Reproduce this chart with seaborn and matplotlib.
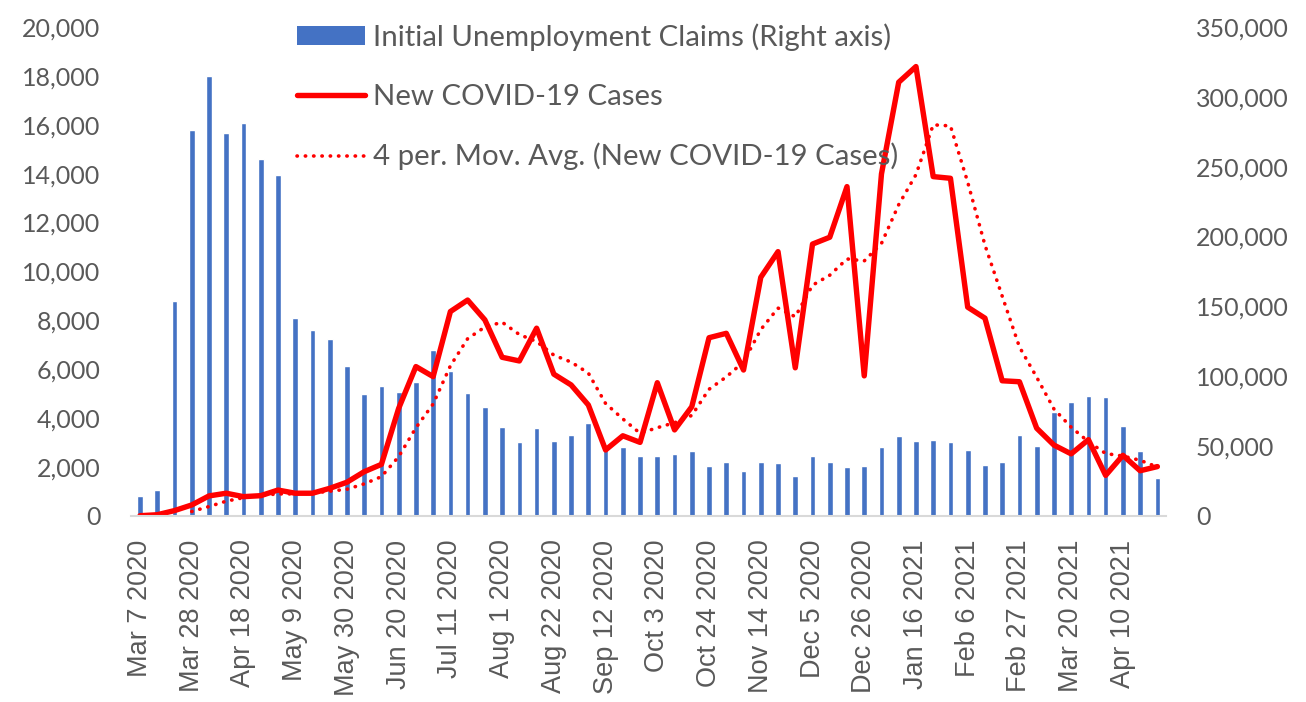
import numpy as np
import pandas as pd
import matplotlib
matplotlib.use("Agg")
import matplotlib.pyplot as plt
from matplotlib.patches import Patch
from matplotlib.lines import Line2D
from matplotlib.ticker import FuncFormatter
import seaborn as sns

# ---------------- data ----------------
weeks = pd.date_range("2020-03-07", periods=60, freq="7D")
week_labels = [f"{d.strftime('%b')} {d.day} {d.year}" for d in weeks]

claims = [14300, 18600, 153900, 276600, 314600, 273800, 281200, 255400, 244000, 141500,
          133400, 126700, 107600, 87500, 93300, 88500, 95700, 118600, 103800, 88300,
          77800, 63700, 53000, 62700, 53400, 57700, 66600, 50500, 49400, 42900,
          42900, 44400, 46300, 35800, 38700, 32000, 38700, 37700, 28600, 42900,
          38900, 34800, 35800, 49400, 57500, 53400, 54400, 52700, 47200, 36500,
          38500, 58000, 50300, 74700, 81500, 86100, 84800, 64600, 46500, 27400]

cases = [10, 50, 220, 450, 820, 930, 790, 830, 1060, 930,
         930, 1130, 1380, 1810, 2110, 4400, 6110, 5700, 8360, 8830,
         8020, 6490, 6340, 7680, 5800, 5360, 4540, 2700, 3280, 3010,
         5450, 3520, 4470, 7290, 7470, 5970, 9760, 10810, 6060, 11120,
         11400, 13470, 5730, 13990, 17740, 18380, 13880, 13810, 8540, 8090,
         5530, 5490, 3590, 2900, 2540, 3120, 1660, 2480, 1850, 2020]

ma_periods = 4
left_ticks = list(range(0, 20001, 2000))
right_ticks = list(range(0, 350001, 50000))
label_step = 3

legend_labels = ["Initial Unemployment Claims (Right axis)",
                 "New COVID-19 Cases",
                 "4 per. Mov. Avg. (New COVID-19 Cases)"]

# ---------------- styling ----------------
sns.set_theme(style="white")
plt.rcParams['font.family'] = ['Lato', 'DejaVu Sans']

BLUE = "#4472C4"
RED = "#FF0000"
GREY = "#595959"
DOTS = (0, (0.1, 2.2))

df = pd.DataFrame({"pos": np.arange(len(claims)), "week": week_labels,
                   "claims": claims, "cases": cases})
df["ma"] = df["cases"].rolling(ma_periods).mean()

fig = plt.figure(figsize=(13.06, 7.02), dpi=100)
ax = fig.add_axes([0.1006, 0.265, 0.7922, 0.6966])
ax2 = ax.twinx()

sns.barplot(data=df, x="pos", y="claims", ax=ax2, color=BLUE, width=0.33,
            saturation=1, errorbar=None)

sns.lineplot(data=df, x="pos", y="cases", ax=ax, color=RED, linewidth=3.9,
             errorbar=None, legend=False)
sns.lineplot(data=df.dropna(), x="pos", y="ma", ax=ax, color=RED, linewidth=2.6,
             linestyle=DOTS, dash_capstyle="round", errorbar=None,
             legend=False)

ax.set_zorder(ax2.get_zorder() + 1)
ax.patch.set_visible(False)

ax.set_ylim(0, 20000)
ax2.set_ylim(0, 350000)
ax.set_yticks(left_ticks)
ax2.set_yticks(right_ticks)
fmt = FuncFormatter(lambda v, p: f"{int(v):,}")
ax.yaxis.set_major_formatter(fmt)
ax2.yaxis.set_major_formatter(fmt)

ax.set_xlim(-0.5, len(claims) - 0.5)
tick_pos = list(range(0, len(claims), label_step))
ax.set_xticks(tick_pos)
ax.set_xticklabels([week_labels[i] for i in tick_pos], rotation=90,
                   fontfamily="Liberation Sans", fontsize=19.5, color=GREY)

ax.set_xlabel("")
ax.set_ylabel("")
ax2.set_xlabel("")
ax2.set_ylabel("")

for a in (ax, ax2):
    for s in a.spines.values():
        s.set_visible(False)
    a.grid(False)
ax.spines["bottom"].set_visible(True)
ax.spines["bottom"].set_color("#D9D9D9")
ax.spines["bottom"].set_linewidth(1.5)

ax.tick_params(axis="y", length=0, pad=22.3, labelsize=18, labelcolor=GREY)
ax2.tick_params(axis="y", length=0, pad=21.6, labelsize=18, labelcolor=GREY)
ax.tick_params(axis="x", length=0, pad=17)

handles = [Patch(facecolor=BLUE, edgecolor="none"),
           Line2D([], [], color=RED, linewidth=3.9, solid_capstyle="round"),
           Line2D([], [], color=RED, linewidth=2.6, linestyle=DOTS,
                  dash_capstyle="round")]
leg = ax.legend(handles, legend_labels, loc="upper left",
                bbox_to_anchor=(0.160, 1.0075), frameon=False, borderpad=0,
                borderaxespad=0, handlelength=2.3, handleheight=0.6,
                handletextpad=0.3, labelspacing=1.12, fontsize=21.2,
                labelcolor=GREY)

fig.savefig("out.png", dpi=100)
